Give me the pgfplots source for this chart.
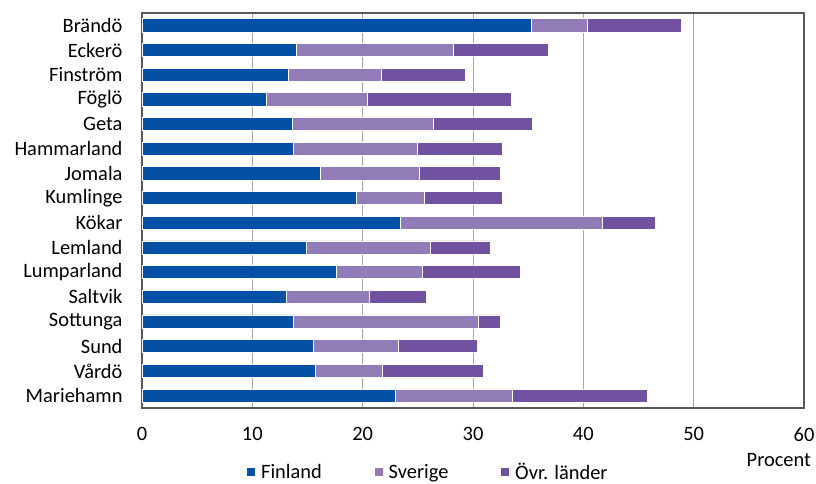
\documentclass[border=0pt]{standalone}
\usepackage{fontspec}
\setmainfont{Carlito}
\usepackage{pgfplots}
\pgfplotsset{compat=1.18}
\definecolor{fin}{HTML}{0450A4}
\definecolor{sve}{HTML}{917CB8}
\definecolor{ovr}{HTML}{7052A0}
\definecolor{gridc}{HTML}{A6A6A6}
\definecolor{axc}{HTML}{595959}

\pgfplotstableread{
idx fin sve ovr
0  35.3 5.1 8.5
1  14.0 14.2 8.6
2  13.3 8.4 7.6
3  11.3 9.1 13.1
4  13.6 12.8 9.0
5  13.7 11.3 7.7
6  16.2 8.9 7.4
7  19.4 6.2 7.1
8  23.4 18.3 4.8
9  14.9 11.2 5.5
10 17.6 7.8 8.9
11 13.1 7.5 5.2
12 13.7 16.8 2.0
13 15.5 7.7 7.2
14 15.7 6.1 9.1
15 23.0 10.6 12.2
}\kommuner

\begin{document}
\begin{tikzpicture}
\useasboundingbox (0,0) rectangle (816bp,484bp);
\begin{axis}[
    at={(142bp,76bp)}, anchor=south west,
    scale only axis,
    width=662bp, height=395bp,
    xbar stacked,
    bar width=13.2bp,
    y dir=reverse,
    xmin=0, xmax=60,
    ymin=-0.5, ymax=15.5,
    xtick={0,10,...,60},
    ytick={0,...,15},
    yticklabels={Brändö,Eckerö,Finström,Föglö,Geta,Hammarland,Jomala,Kumlinge,Kökar,Lemland,Lumparland,Saltvik,Sottunga,Sund,Vårdö,Mariehamn},
    major tick length=0pt,
    xmajorgrids,
    grid style={gridc, line width=0.9bp},
    axis line style={axc, line width=1.2bp},
    /pgf/number format/assume math mode=true,
    tick label style={font=\fontsize{20.5}{24}\selectfont, black},
    xticklabel style={yshift=-16bp},
    yticklabel style={xshift=-16bp},
    xlabel={Procent},
    xlabel style={at={(axis description cs:0.962,-0.132)}, anchor=center, font=\fontsize{20.5}{24}\selectfont},
    legend columns=3,
    legend style={at={(axis description cs:0.432,-0.163)}, anchor=center, draw=none,
        font=\fontsize{20.5}{24}\selectfont,
        /tikz/every even column/.append style={column sep=50bp},
        /tikz/every odd column/.append style={column sep=3bp}},
    legend image code/.code={\fill[#1] (0bp,-4.5bp) rectangle (9bp,4.5bp);},
    every axis plot/.append style={draw=white, line width=0.8bp},
]
\addplot[fill=fin] table[x=fin, y=idx] {\kommuner};
\addplot[fill=sve] table[x=sve, y=idx] {\kommuner};
\addplot[fill=ovr] table[x=ovr, y=idx] {\kommuner};
\legend{Finland, Sverige, Övr. länder}
\end{axis}
\end{tikzpicture}
\end{document}
